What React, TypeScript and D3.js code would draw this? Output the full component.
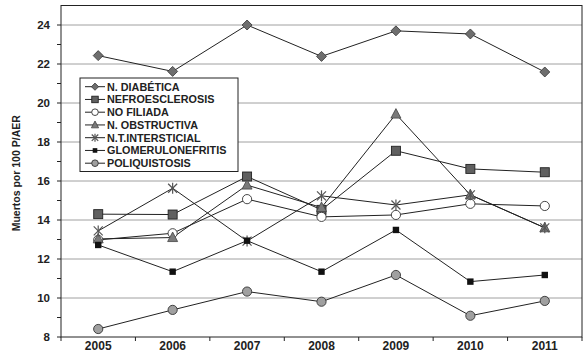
import React from "react";
import * as d3 from "d3";

const years = ["2005", "2006", "2007", "2008", "2009", "2010", "2011"];
const seriesNames = [
  "N. DIABÉTICA",
  "NEFROESCLEROSIS",
  "NO FILIADA",
  "N. OBSTRUCTIVA",
  "N.T.INTERSTICIAL",
  "GLOMERULONEFRITIS",
  "POLIQUISTOSIS",
];
const diabetica = [22.43, 21.62, 24.0, 22.39, 23.7, 23.54, 21.59];
const nefroesclerosis = [14.3, 14.28, 16.23, 14.52, 17.55, 16.62, 16.45];
const noFiliada = [12.98, 13.32, 15.07, 14.16, 14.26, 14.83, 14.72];
const obstructiva = [13.03, 13.1, 15.79, 14.64, 19.43, 15.29, 13.6];
const intersticial = [13.44, 15.63, 12.92, 15.24, 14.77, 15.29, 13.6];
const glomerulo = [12.72, 11.35, 12.94, 11.35, 13.49, 10.84, 11.18];
const poliquistosis = [8.41, 9.39, 10.33, 9.81, 11.18, 9.09, 9.85];
const yTickLabels = [8, 10, 12, 14, 16, 18, 20, 22, 24];
const yTitle = "Muertos por 100 P/AER";

const allSeries = [diabetica, nefroesclerosis, noFiliada, obstructiva, intersticial, glomerulo, poliquistosis];
const markerTypes = ["diamond", "square", "circleWhite", "triangle", "asterisk", "smallSquare", "circleGray"];

const W = 588, H = 352;
const left = 61, right = 582, top = 5.5, bottom = 337;
const FONT = "Liberation Sans, Arial, sans-serif";

function Marker({ type, x, y, s = 1 }: { type: string; x: number; y: number; s?: number }) {
  switch (type) {
    case "diamond":
      return <path d={`M${x},${y - 5 * s}L${x + 5 * s},${y}L${x},${y + 5 * s}L${x - 5 * s},${y}Z`} fill="#6e6e6e" stroke="#333" strokeWidth={0.8} />;
    case "square":
      return <rect x={x - 4.5 * s} y={y - 4.5 * s} width={9 * s} height={9 * s} fill="#606060" stroke="#222" strokeWidth={0.9} />;
    case "circleWhite":
      return <circle cx={x} cy={y} r={4.6 * s} fill="#fff" stroke="#333" strokeWidth={0.9} />;
    case "triangle":
      return <path d={`M${x},${y - 5.5 * s}L${x + 5 * s},${y + 4 * s}L${x - 5 * s},${y + 4 * s}Z`} fill="#7a7a7a" stroke="#444" strokeWidth={0.8} />;
    case "asterisk":
      return (
        <g stroke="#555" strokeWidth={1.2}>
          <line x1={x - 4.5 * s} y1={y - 4.5 * s} x2={x + 4.5 * s} y2={y + 4.5 * s} />
          <line x1={x - 4.5 * s} y1={y + 4.5 * s} x2={x + 4.5 * s} y2={y - 4.5 * s} />
          <line x1={x} y1={y - 5.5 * s} x2={x} y2={y + 5.5 * s} />
        </g>
      );
    case "smallSquare":
      return <rect x={x - 3.2 * s} y={y - 3.2 * s} width={6.4 * s} height={6.4 * s} fill="#111" />;
    case "circleGray":
      return <circle cx={x} cy={y} r={4.6 * s} fill="#a0a0a0" stroke="#333" strokeWidth={0.9} />;
  }
  return null;
}

export default function App() {
  const x = d3.scaleBand<string>().domain(years).range([left, right]).padding(0);
  const y = d3.scaleLinear().domain([8, 25]).range([bottom, top]);
  const cx = (yr: string) => (x(yr) as number) + x.bandwidth() / 2;
  const line = d3
    .line<number>()
    .x((_, i) => cx(years[i]))
    .y((v) => y(v));
  const minorTicks = d3.range(8, 25, 1);
  const legendX = 80, legendY = 78, legendW = 158, legendH = 93.5;
  const rowH = 12.75;

  return (
    <svg width={W} height={H} style={{ position: "absolute", left: 0, top: 0, background: "#fff" }}>
      <rect x={0} y={0} width={W} height={H} fill="#fff" />
      {yTickLabels.filter((t) => t > 8).map((t) => (
        <line key={t} x1={left} x2={right} y1={y(t)} y2={y(t)} stroke="#a0a0a0" strokeWidth={1} />
      ))}
      <rect x={left} y={top} width={right - left} height={bottom - top} fill="none" stroke="#222" strokeWidth={1} />
      {minorTicks.map((t) => (
        <line key={t} x1={left - 4} x2={left} y1={y(t)} y2={y(t)} stroke="#222" strokeWidth={1} />
      ))}
      {yTickLabels.map((t) => (
        <text key={t} x={50} y={y(t) + 4} textAnchor="end" fontFamily={FONT} fontWeight="bold" fontSize={11.5} fill="#222">
          {t}
        </text>
      ))}
      {years.map((yr) => (
        <line key={yr} x1={x(yr)} x2={x(yr)} y1={bottom} y2={bottom + 4} stroke="#222" strokeWidth={1} />
      ))}
      <line x1={right} x2={right} y1={bottom} y2={bottom + 4} stroke="#222" strokeWidth={1} />
      {years.map((yr) => (
        <text key={yr} x={cx(yr)} y={350} textAnchor="middle" fontFamily={FONT} fontWeight="bold" fontSize={12} fill="#222">
          {yr}
        </text>
      ))}
      <text
        transform={`translate(20,${(top + bottom) / 2 + 2}) rotate(-90)`}
        textAnchor="middle"
        fontFamily={FONT}
        fontWeight="bold"
        fontSize={10.5}
        fill="#222"
      >
        {yTitle}
      </text>
      <rect x={legendX} y={legendY} width={legendW} height={legendH} fill="#fff" stroke="#222" strokeWidth={1} />
      {seriesNames.map((name, i) => {
        const ly = legendY + 8.7 + i * rowH;
        return (
          <g key={name}>
            <line x1={85} x2={105} y1={ly} y2={ly} stroke="#222" strokeWidth={1} />
            <Marker type={markerTypes[i]} x={95} y={ly} s={0.72} />
            <text x={107} y={ly + 4} fontFamily={FONT} fontWeight="bold" fontSize={10.8} fill="#222">
              {name}
            </text>
          </g>
        );
      })}
      {allSeries.map((s, i) => (
        <path key={i} d={line(s) as string} fill="none" stroke="#222" strokeWidth={1} />
      ))}
      {allSeries.map((s, i) => (
        <g key={"m" + i}>
          {s.map((v, j) => (
            <Marker key={j} type={markerTypes[i]} x={cx(years[j])} y={y(v)} />
          ))}
        </g>
      ))}
    </svg>
  );
}
